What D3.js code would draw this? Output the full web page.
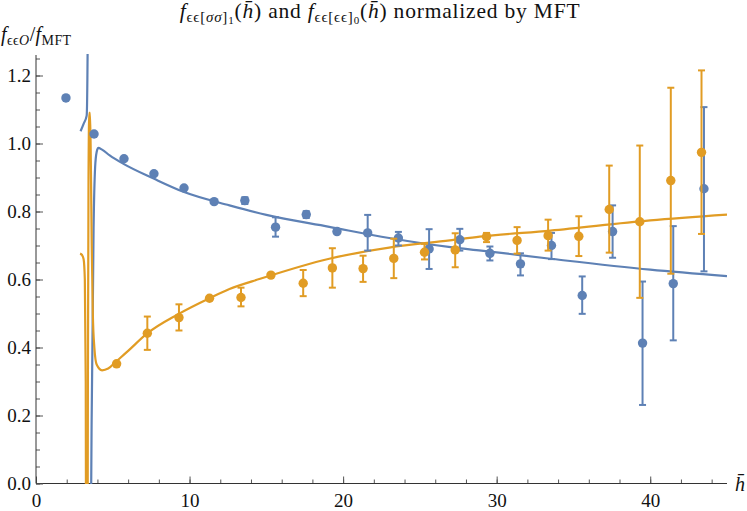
<!DOCTYPE html>
<html><head><meta charset="utf-8">
<script src="https://cdn.jsdelivr.net/npm/d3@7"></script>
<style>
body{margin:0;background:#fff}
svg{display:block}
</style>
</head><body>
<svg id="c" width="747" height="511"></svg>
<script>
// ---- data ----
const xTicks = [0, 10, 20, 30, 40];
const xMinor = d3.range(0, 45.01, 2);
const yTicks = [0.0, 0.2, 0.4, 0.6, 0.8, 1.0, 1.2];
const yMinor = d3.range(0, 1.251, 0.05);

// blue series: f_{εε[σσ]1}
const blueH  = [1.95, 3.78, 5.73, 7.68, 9.64, 11.6, 13.6, 15.6, 17.6, 19.6, 21.6, 23.6, 25.6, 27.6, 29.56, 31.55, 33.57, 35.57, 37.55, 39.5, 41.5, 43.5];
const blueY  = [1.134, 1.028, 0.955, 0.911, 0.869, 0.829, 0.832, 0.754, 0.791, 0.741, 0.737, 0.722, 0.690, 0.717, 0.677, 0.646, 0.700, 0.553, 0.741, 0.413, 0.588, 0.867];
const blueLo = [null, null, null, null, null, null, 0.822, 0.726, 0.781, null, 0.685, 0.700, 0.631, 0.685, 0.656, 0.612, 0.660, 0.499, 0.664, 0.231, 0.421, 0.624];
const blueHi = [null, null, null, null, null, null, 0.842, 0.783, 0.801, null, 0.790, 0.740, 0.748, 0.749, 0.697, 0.677, 0.737, 0.609, 0.818, 0.594, 0.757, 1.107];

// orange series: f_{εε[εε]0}
const orangeH  = [5.25, 7.25, 9.31, 11.3, 13.35, 15.3, 17.4, 19.3, 21.3, 23.3, 25.3, 27.3, 29.34, 31.33, 33.35, 35.35, 37.33, 39.32, 41.34, 43.34];
const orangeY  = [0.352, 0.442, 0.488, 0.545, 0.547, 0.613, 0.589, 0.634, 0.632, 0.662, 0.680, 0.687, 0.726, 0.715, 0.729, 0.727, 0.806, 0.770, 0.891, 0.974];
const orangeLo = [null, 0.393, 0.450, null, 0.521, null, 0.551, 0.576, 0.593, 0.604, 0.659, 0.636, 0.710, 0.676, 0.685, 0.669, 0.679, 0.546, 0.617, 0.734];
const orangeHi = [null, 0.491, 0.527, null, 0.576, null, 0.628, 0.692, 0.670, 0.720, 0.705, 0.736, 0.737, 0.754, 0.776, 0.786, 0.935, 0.994, 1.164, 1.215];

// theory curves, split at the pole
const blueCurveA = [[2.9,1.036],[3.1,1.058],[3.3,1.082],[3.38,1.4],[3.43,3.0]];
const blueCurveB = [[3.44,-3.0],[3.55,-0.3],[3.65,0.3],[3.75,0.75],[3.85,0.93],[3.95,0.975],[4.06,0.987],[4.3,0.982],[4.8,0.965],[5.7,0.94],[7.7,0.896],[9.6,0.858],[12.6,0.818],[15,0.79],[19.1,0.755],[23,0.722],[27,0.695],[29,0.685],[33.5,0.661],[40,0.629],[45,0.61]];
const orangeCurveA = [[2.87,0.676],[3.0,0.672],[3.1,0.66],[3.18,0.6],[3.24,0.3],[3.29,-1.0]];
const orangeCurveB = [[3.33,-1.0],[3.38,0.3],[3.42,0.9],[3.47,1.09],[3.52,1.09],[3.57,0.95],[3.63,0.7],[3.7,0.5],[3.8,0.4],[3.95,0.35],[4.3,0.333],[4.7,0.338],[5.25,0.36],[6,0.39],[7.2,0.44],[9.3,0.499],[11.3,0.545],[12.6,0.572],[14.6,0.602],[19.1,0.661],[23,0.694],[26.95,0.715],[28.9,0.726],[33.5,0.744],[40,0.774],[45,0.791]];

// ---- drawing ----
const BLUE = "#5E81B5", ORANGE = "#E19C24";
const FONT = '"Liberation Serif"';
const svg = d3.select("#c");
const x = d3.scaleLinear().domain([0, 45]).range([36, 727]);
const y = d3.scaleLinear().domain([0, 1.25]).range([483.5, 58.5]);

svg.append("defs").append("clipPath").attr("id","clip")
  .append("rect").attr("x", 36).attr("y", 54).attr("width", 691).attr("height", 430);

// axes
const gx = svg.append("g").attr("transform", `translate(0,${y(0)})`);
gx.call(d3.axisBottom(x).tickValues(xMinor).tickSize(-4).tickFormat(""));
gx.select(".domain").remove();
const gxM = svg.append("g").attr("transform", `translate(0,${y(0)})`);
gxM.call(d3.axisBottom(x).tickValues(xTicks).tickSize(-7).tickPadding(10).tickFormat(d3.format("d")));
gxM.select(".domain").remove();
svg.append("line").attr("x1", x(0)).attr("x2", x(45)).attr("y1", y(0)).attr("y2", y(0)).attr("stroke", "#333");

const gy = svg.append("g").attr("transform", `translate(${x(0)},0)`);
gy.call(d3.axisLeft(y).tickValues(yMinor).tickSize(-4).tickFormat(""));
gy.select(".domain").remove();
const gyM = svg.append("g").attr("transform", `translate(${x(0)},0)`);
gyM.call(d3.axisLeft(y).tickValues(yTicks).tickSize(-7).tickPadding(5).tickFormat(d3.format(".1f")));
gyM.select(".domain").remove();
svg.append("line").attr("x1", x(0)).attr("x2", x(0)).attr("y1", y(0)).attr("y2", 55).attr("stroke", "#333");

svg.selectAll(".tick line").attr("stroke", "#555");
svg.selectAll(".tick text").style("font-size", "19px").style("font-family", FONT).attr("fill", "#111");

// curves
const line = d3.line().x(d => x(d[0])).y(d => y(d[1])).curve(d3.curveMonotoneX);
const plot = svg.append("g").attr("clip-path", "url(#clip)");
[[blueCurveA, BLUE],[blueCurveB, BLUE],[orangeCurveA, ORANGE],[orangeCurveB, ORANGE]].forEach(([c, col]) => {
  plot.append("path").attr("d", line(c)).attr("fill", "none").attr("stroke", col).attr("stroke-width", 2.2);
});

// points with error bars
function drawSeries(H, Y, LO, HI, col) {
  const g = svg.append("g").attr("clip-path", "url(#clip)");
  H.forEach((h, i) => {
    if (LO[i] != null) {
      const cx = x(h);
      g.append("line").attr("x1", cx).attr("x2", cx).attr("y1", y(LO[i])).attr("y2", y(HI[i])).attr("stroke", col).attr("stroke-width", 2);
      [LO[i], HI[i]].forEach(v => g.append("line").attr("x1", cx - 3.5).attr("x2", cx + 3.5).attr("y1", y(v)).attr("y2", y(v)).attr("stroke", col).attr("stroke-width", 2));
    }
  });
  g.selectAll("circle.p").data(H).join("circle").attr("cx", d => x(d)).attr("cy", (d, i) => y(Y[i])).attr("r", 4.7).attr("fill", col);
}
drawSeries(blueH, blueY, blueLo, blueHi, BLUE);
drawSeries(orangeH, orangeY, orangeLo, orangeHi, ORANGE);

function txt(sel, s, opts = {}) {
  const ts = sel.append("tspan").style("font-family", FONT).text(s);
  if (opts.it) ts.style("font-style", "italic");
  if (opts.size) ts.style("font-size", opts.size);
  if (opts.dy) ts.attr("dy", opts.dy);
  return ts;
}

// title
const t = svg.append("text").attr("x", 380).attr("y", 18).attr("text-anchor", "middle")
  .style("font-family", FONT).style("font-size", "21.5px").style("letter-spacing", "0.8px").attr("fill", "#111");
txt(t, "f", {it: 1});
txt(t, "ϵϵ[", {size: "15px", dy: 4});
txt(t, "σσ", {size: "15px", it: 1});
txt(t, "]", {size: "15px"});
txt(t, "1", {size: "11px", dy: 2});
txt(t, "(", {dy: -6});
txt(t, "h\u0304", {it: 1});
txt(t, ") and ");
txt(t, "f", {it: 1});
txt(t, "ϵϵ[ϵϵ]", {size: "15px", dy: 4});
txt(t, "0", {size: "11px", dy: 2});
txt(t, "(", {dy: -6});
txt(t, "h\u0304", {it: 1});
txt(t, ") normalized by MFT");

// y label
const yl = svg.append("text").attr("x", 1).attr("y", 41).style("font-family", FONT).style("font-size", "20px").style("letter-spacing", "0.4px").attr("fill", "#111");
txt(yl, "f", {it: 1});
txt(yl, "ϵϵ", {size: "14px", dy: 4});
txt(yl, "O", {size: "14px", it: 1});
txt(yl, "/", {dy: -4});
txt(yl, "f", {it: 1});
txt(yl, "MFT", {size: "14px", dy: 4});

// x label
svg.append("text").attr("x", 735).attr("y", 491).style("font-family", FONT).style("font-style", "italic").style("font-size", "20px").attr("fill", "#111").text("h\u0304");
</script>
</body></html>
